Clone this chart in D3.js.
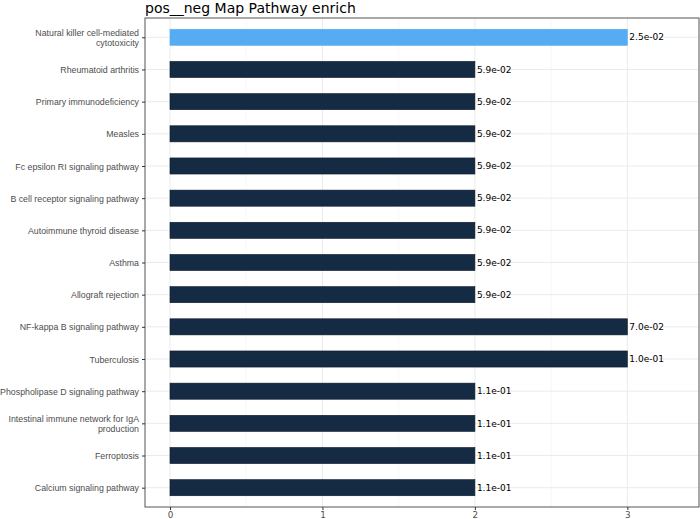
<!DOCTYPE html>
<html>
<head>
<meta charset="utf-8">
<script src="https://cdn.jsdelivr.net/npm/d3@7"></script>
<style>
  body { margin: 0; background: #fff; }
  svg { font-family: "DejaVu Sans", sans-serif; }
</style>
</head>
<body>
<div id="chart-container"></div>
<script>
// pathways, top to bottom
const pathways = [
  "Natural killer cell-mediated cytotoxicity",
  "Rheumatoid arthritis",
  "Primary immunodeficiency",
  "Measles",
  "Fc epsilon RI signaling pathway",
  "B cell receptor signaling pathway",
  "Autoimmune thyroid disease",
  "Asthma",
  "Allograft rejection",
  "NF-kappa B signaling pathway",
  "Tuberculosis",
  "Phospholipase D signaling pathway",
  "Intestinal immune network for IgA production",
  "Ferroptosis",
  "Calcium signaling pathway"
];
const counts = [3, 2, 2, 2, 2, 2, 2, 2, 2, 3, 3, 2, 2, 2, 2];
const pvalues = ["2.5e-02", "5.9e-02", "5.9e-02", "5.9e-02", "5.9e-02", "5.9e-02", "5.9e-02",
  "5.9e-02", "5.9e-02", "7.0e-02", "1.0e-01", "1.1e-01", "1.1e-01", "1.1e-01", "1.1e-01"];
const highlighted = [true, false, false, false, false, false, false, false, false, false, false, false, false, false, false];
const xTicks = [0, 1, 2, 3];
const xMinor = [0.5, 1.5, 2.5];

// wrapped label lines
const labelLines = {
  "Natural killer cell-mediated cytotoxicity": ["Natural killer cell-mediated", "cytotoxicity"],
  "Intestinal immune network for IgA production": ["Intestinal immune network for IgA", "production"]
};

const width = 700, height = 519;
const panel = { left: 145, top: 18, right: 699, bottom: 507 };

const svg = d3.select("#chart-container")
  .append("svg")
  .attr("width", width)
  .attr("height", height);

const x = d3.scaleLinear()
  .domain([-0.164, 3.47])
  .range([panel.left, panel.right]);

const y = d3.scalePoint()
  .domain(pathways)
  .range([panel.top, panel.bottom])
  .padding(0.6);

const barH = y.step() * 0.5;

// minor grid
svg.append("g").selectAll("line")
  .data(xMinor)
  .enter().append("line")
  .attr("x1", d => x(d)).attr("x2", d => x(d))
  .attr("y1", panel.top).attr("y2", panel.bottom)
  .attr("stroke", "#f2f2f2").attr("stroke-width", 0.6);

// major grid
svg.append("g").selectAll("line")
  .data(xTicks)
  .enter().append("line")
  .attr("x1", d => x(d)).attr("x2", d => x(d))
  .attr("y1", panel.top).attr("y2", panel.bottom)
  .attr("stroke", "#ebebeb").attr("stroke-width", 1);

svg.append("g").selectAll("line")
  .data(pathways)
  .enter().append("line")
  .attr("x1", panel.left).attr("x2", panel.right)
  .attr("y1", d => y(d)).attr("y2", d => y(d))
  .attr("stroke", "#ebebeb").attr("stroke-width", 1);

// bars
svg.append("g").selectAll("rect")
  .data(pathways)
  .enter().append("rect")
  .attr("x", x(0))
  .attr("y", d => y(d) - barH / 2)
  .attr("width", (d, i) => x(counts[i]) - x(0))
  .attr("height", barH)
  .attr("fill", (d, i) => highlighted[i] ? "#56acf2" : "#152a43")
  .attr("stroke", (d, i) => highlighted[i] ? "#56acf2" : "#0c1a2b")
  .attr("stroke-width", 0.6);

// p-value labels
svg.append("g").selectAll("text")
  .data(pathways)
  .enter().append("text")
  .attr("x", (d, i) => x(counts[i]) + 2)
  .attr("y", d => y(d))
  .attr("dy", "0.35em")
  .attr("font-size", 9)
  .attr("fill", "#000")
  .text((d, i) => pvalues[i]);

// panel border
svg.append("rect")
  .attr("x", panel.left).attr("y", panel.top)
  .attr("width", panel.right - panel.left)
  .attr("height", panel.bottom - panel.top)
  .attr("fill", "none")
  .attr("stroke", "#555").attr("stroke-width", 1);

// y axis
const yAxis = svg.append("g")
  .attr("transform", "translate(" + panel.left + ",0)")
  .call(d3.axisLeft(y).tickSize(3).tickPadding(3).tickFormat(""));
yAxis.select(".domain").remove();
yAxis.selectAll(".tick line").attr("stroke", "#333");

yAxis.selectAll(".tick").each(function (d) {
  const lines = labelLines[d] || [d];
  const t = d3.select(this).append("text")
    .attr("x", -6)
    .attr("text-anchor", "end")
    .attr("font-size", 8.8)
    .attr("fill", "#4d4d4d");
  lines.forEach((line, k) => {
    t.append("tspan")
      .attr("x", -6)
      .attr("y", (k - (lines.length - 1) / 2) * 10.5)
      .attr("dy", "0.35em")
      .text(line);
  });
});

// x axis
const xAxis = svg.append("g")
  .attr("transform", "translate(0," + panel.bottom + ")")
  .call(d3.axisBottom(x).tickValues(xTicks).tickSize(3).tickPadding(2).tickFormat(d3.format("d")));
xAxis.select(".domain").remove();
xAxis.selectAll(".tick line").attr("stroke", "#333");
xAxis.selectAll(".tick text").attr("font-size", 8.8).attr("fill", "#4d4d4d")
  .attr("font-family", "DejaVu Sans, sans-serif");

// title
svg.append("text")
  .attr("x", panel.left)
  .attr("y", 13)
  .attr("font-size", 14)
  .attr("fill", "#000")
  .text("pos__neg Map Pathway enrich");
</script>
</body>
</html>
